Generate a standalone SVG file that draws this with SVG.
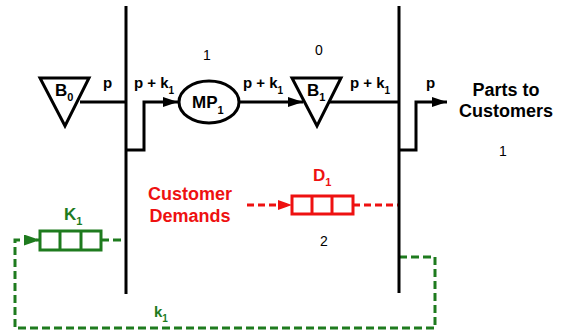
<svg xmlns="http://www.w3.org/2000/svg" width="561" height="332" viewBox="0 0 561 332">
<style>
text{font-family:"Liberation Sans",Arial,sans-serif;}
.lbl{font-weight:bold;font-size:15px;fill:#000;}
.num{font-size:14px;fill:#000;}
.node{font-weight:bold;font-size:17px;fill:#000;}
.sub{font-size:10px;}
.bar{stroke:#000;stroke-width:3;fill:none;}
.ln{stroke:#000;stroke-width:3;fill:none;}
.shape{stroke:#000;stroke-width:3;fill:#fff;}
.red{fill:#ee1111;}
.green{fill:#1e7b1e;}
.rdash{stroke:#ee1111;stroke-width:3;fill:none;stroke-dasharray:7 4;}
.gdash{stroke:#1e7b1e;stroke-width:3;fill:none;stroke-dasharray:8 4;}
.rq{stroke:#ee1111;stroke-width:3;fill:#fff;}
.gq{stroke:#1e7b1e;stroke-width:3;fill:#fff;}
</style>
<defs>
<marker id="ab" markerUnits="userSpaceOnUse" markerWidth="15" markerHeight="10" refX="15" refY="5" orient="auto"><path d="M0,0 L15,5 L0,10 z" fill="#000"/></marker>
<marker id="ar" markerUnits="userSpaceOnUse" markerWidth="14" markerHeight="10" refX="14" refY="5" orient="auto"><path d="M0,0 L14,5 L0,10 z" fill="#ee1111"/></marker>
<marker id="ag" markerUnits="userSpaceOnUse" markerWidth="16" markerHeight="11" refX="16" refY="5.5" orient="auto"><path d="M0,0 L16,5.5 L0,11 z" fill="#1e7b1e"/></marker>
</defs>
<rect width="561" height="332" fill="#fff"/>

<g id="connectors">
  <line class="ln" x1="80" y1="102" x2="126" y2="102"/>
  <polyline class="ln" points="126,150 144,150 144,102 178,102" marker-end="url(#ab)"/>
  <line class="ln" x1="239" y1="102" x2="303" y2="102" marker-end="url(#ab)"/>
  <line class="ln" x1="329" y1="102" x2="399" y2="102"/>
  <polyline class="ln" points="399,150 416,150 416,102 447,102" marker-end="url(#ab)"/>
  <line class="rdash" x1="247" y1="205" x2="292" y2="205" marker-end="url(#ar)"/>
  <line class="rdash" x1="353" y1="205" x2="399" y2="205"/>
  <line class="gdash" x1="101" y1="240" x2="126" y2="240"/>
  <polyline class="gdash" points="399,257 435,257 435,328 15,328 15,240 40,240" marker-end="url(#ag)"/>
  <text class="lbl" x="103" y="88">p</text>
  <text class="lbl" x="134" y="88">p + k<tspan class="sub" dy="6">1</tspan></text>
  <text class="lbl" x="243" y="88">p + k<tspan class="sub" dy="6">1</tspan></text>
  <text class="lbl" x="350" y="88">p + k<tspan class="sub" dy="6">1</tspan></text>
  <text class="lbl" x="426" y="88">p</text>
  <text class="lbl green" x="154" y="317">k<tspan class="sub" dy="5">1</tspan></text>
</g>

<g id="bar-left"><line class="bar" x1="126" y1="6" x2="126" y2="294"/></g>
<g id="bar-right"><line class="bar" x1="399" y1="6" x2="399" y2="293"/></g>

<g id="B0">
  <polygon class="shape" points="40,78 89,78 65,126"/>
  <text class="node" x="55" y="96">B<tspan font-size="11" dy="5">0</tspan></text>
</g>

<g id="MP1">
  <ellipse class="shape" cx="209" cy="102" rx="30" ry="21"/>
  <text class="node" x="192" y="108">MP<tspan font-size="11" dy="6">1</tspan></text>
  <text class="num" x="207" y="60" text-anchor="middle">1</text>
</g>

<g id="B1">
  <polygon class="shape" points="292,78 341,78 317,126"/>
  <text class="node" x="307" y="96">B<tspan font-size="11" dy="5">1</tspan></text>
  <text class="num" x="319" y="55" text-anchor="middle">0</text>
</g>

<g id="parts-to-customers">
  <text font-weight="bold" font-size="18" x="506" y="96" text-anchor="middle">Parts to</text>
  <text font-weight="bold" font-size="18" x="506" y="117" text-anchor="middle">Customers</text>
  <text class="num" x="503" y="156" text-anchor="middle">1</text>
</g>

<g id="customer-demands">
  <text class="red" font-weight="bold" font-size="18" x="190" y="200" text-anchor="middle">Customer</text>
  <text class="red" font-weight="bold" font-size="18" x="190" y="222" text-anchor="middle">Demands</text>
</g>

<g id="D1">
  <rect class="rq" x="292" y="196" width="61" height="18"/>
  <line class="rq" x1="312" y1="196" x2="312" y2="214"/>
  <line class="rq" x1="332" y1="196" x2="332" y2="214"/>
  <text class="node red" x="313" y="181">D<tspan font-size="11" dy="5">1</tspan></text>
  <text class="num" x="324" y="246" text-anchor="middle" font-size="15">2</text>
</g>

<g id="K1">
  <rect class="gq" x="40" y="231" width="61" height="19"/>
  <line class="gq" x1="60" y1="231" x2="60" y2="250"/>
  <line class="gq" x1="81" y1="231" x2="81" y2="250"/>
  <text class="node green" x="64" y="220">K<tspan font-size="11" dy="5">1</tspan></text>
</g>
</svg>
